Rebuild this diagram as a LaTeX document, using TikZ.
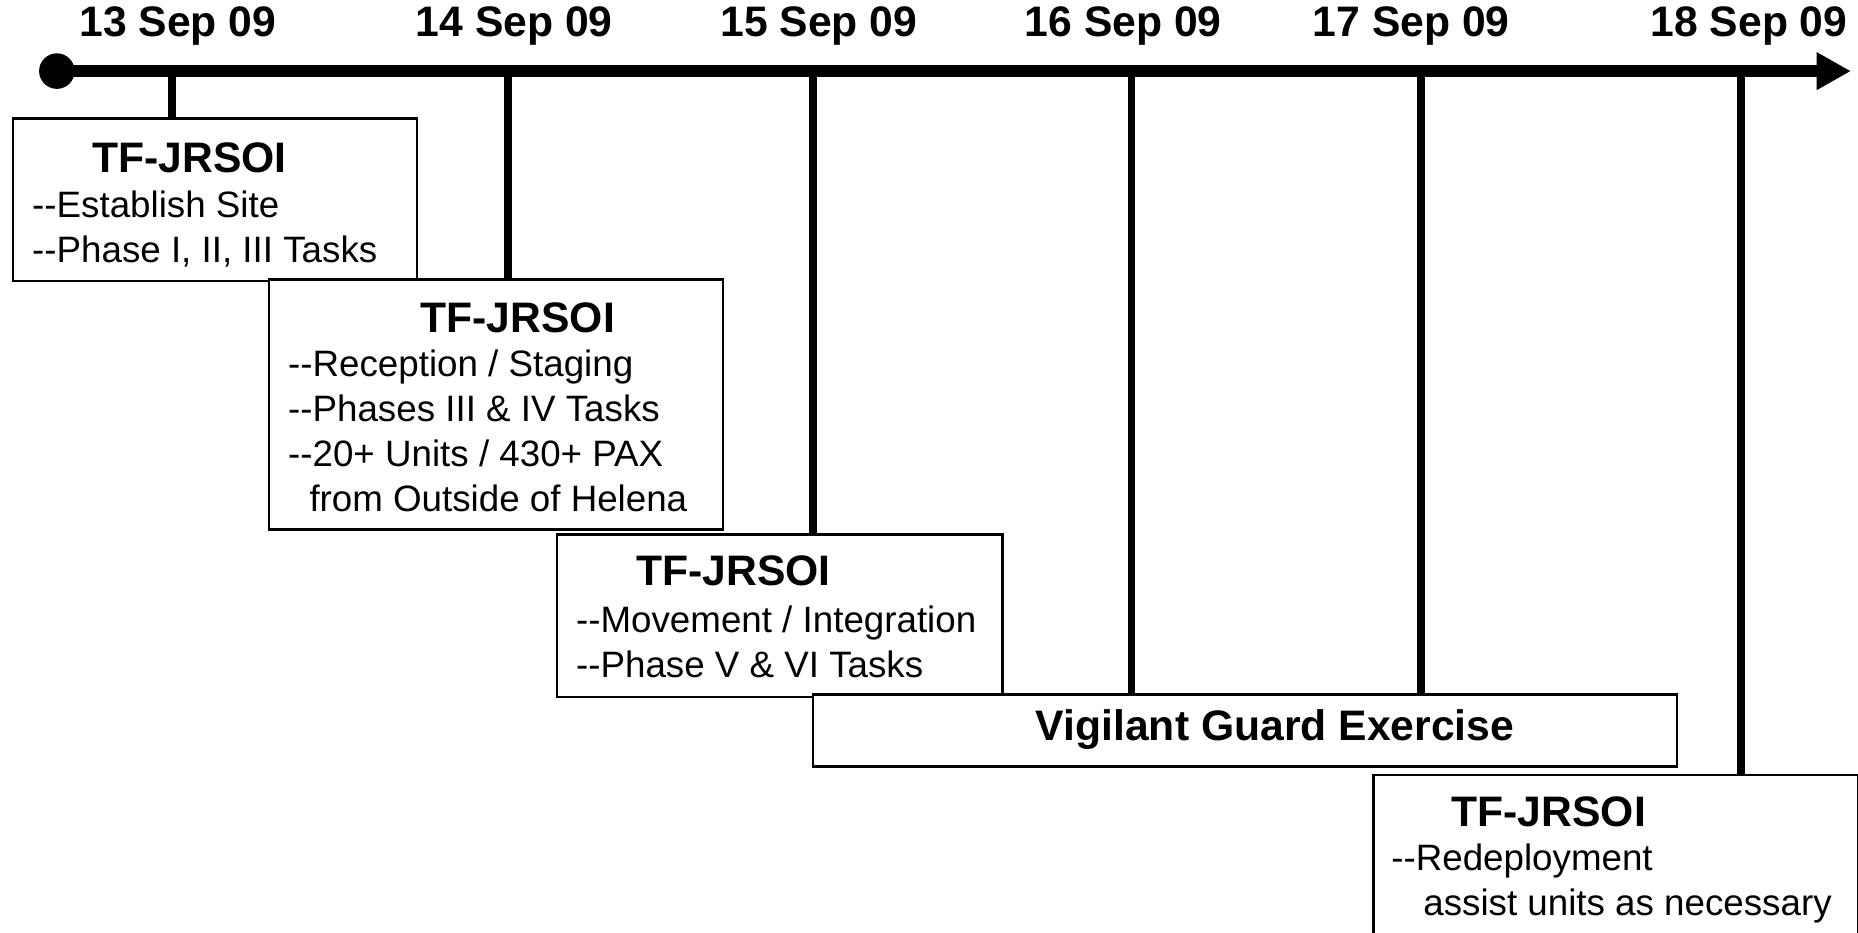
\documentclass[tikz,border=0pt]{standalone}
\usepackage{fontspec}
\setmainfont{Liberation Sans}
\usetikzlibrary{arrows.meta}
\newcommand{\dd}{-{}-}

\begin{document}
\begin{tikzpicture}[
    x=1pt, y=-1pt,
    axis/.style={line width=10pt, -{Triangle[length=29pt, width=30pt]}},
    dot/.style={circle, fill, minimum size=30pt, inner sep=0pt},
    tick/.style={line width=6.5pt},
    box/.style={draw, line width=2pt, fill=white, anchor=north west, inner sep=0pt},
    date/.style={font=\bfseries\fontsize{36}{43}\selectfont},
    ttl/.style={font=\bfseries\fontsize{36}{43}\selectfont},
    txt/.style={font=\fontsize{31}{38}\selectfont, align=left, anchor=north west, inner sep=0pt},
  ]
  \useasboundingbox (0,0) rectangle (1568,787);

  % time line
  \node[dot] (start) at (48,60) {};
  \coordinate (end) at (1562,60);
  \draw[axis] (start.center) -- (end);

  \node[date] (d1) at (150,22) {13 Sep 09};
  \node[date] (d2) at (434,22) {14 Sep 09};
  \node[date] (d3) at (691,22) {15 Sep 09};
  \node[date] (d4) at (948,22) {16 Sep 09};
  \node[date] (d5) at (1191,22) {17 Sep 09};
  \node[date] (d6) at (1476,22) {18 Sep 09};

  \coordinate (t1) at (145,60);
  \coordinate (t2) at (429,60);
  \coordinate (t3) at (686,60);
  \coordinate (t4) at (955,60);
  \coordinate (t5) at (1199,60);
  \coordinate (t6) at (1469,60);

  % boxes
  \node[box, minimum width=341pt, minimum height=137pt] (b1) at (10,99) {};
  \node[box, minimum width=383pt, minimum height=211pt] (b2) at (226,235) {};
  \node[box, minimum width=376pt, minimum height=137pt] (b3) at (469,450) {};
  \node[box, minimum width=729pt, minimum height=61pt] (vg) at (685,585) {};
  \node[box, minimum width=409pt, minimum height=134pt] (b5) at (1158,653) {};

  \draw[tick] (t1) -- (t1 |- b1.north);
  \draw[tick] (t2) -- (t2 |- b2.north);
  \draw[tick] (t3) -- (t3 |- b3.north);
  \draw[tick] (t4) -- (t4 |- vg.north);
  \draw[tick] (t5) -- (t5 |- vg.north);
  \draw[tick] (t6) -- (t6 |- b5.north);

  \node[ttl] (h1) at (160,133) {TF-JRSOI};
  \node[txt] (l1) at (27,161) {\dd Establish Site\\\dd Phase I, II, III Tasks};

  \node[ttl] (h2) at (437,268) {TF-JRSOI};
  \node[txt] (l2) at (243,295) {\dd Reception / Staging\\\dd Phases III \& IV Tasks\\\dd 20+ Units / 430+ PAX\\\hspace*{18pt}from Outside of Helena};

  \node[ttl] (h3) at (619,482) {TF-JRSOI};
  \node[txt] (l3) at (486,511) {\dd Movement / Integration\\\dd Phase V \& VI Tasks};

  \node[ttl] (hv) at (1076,616) {Vigilant Guard Exercise};

  \node[ttl] (h5) at (1307,685) {TF-JRSOI};
  \node[txt] (l5) at (1174,712) {\dd Redeployment\\\hspace*{27pt}assist units as necessary};
\end{tikzpicture}
\end{document}
